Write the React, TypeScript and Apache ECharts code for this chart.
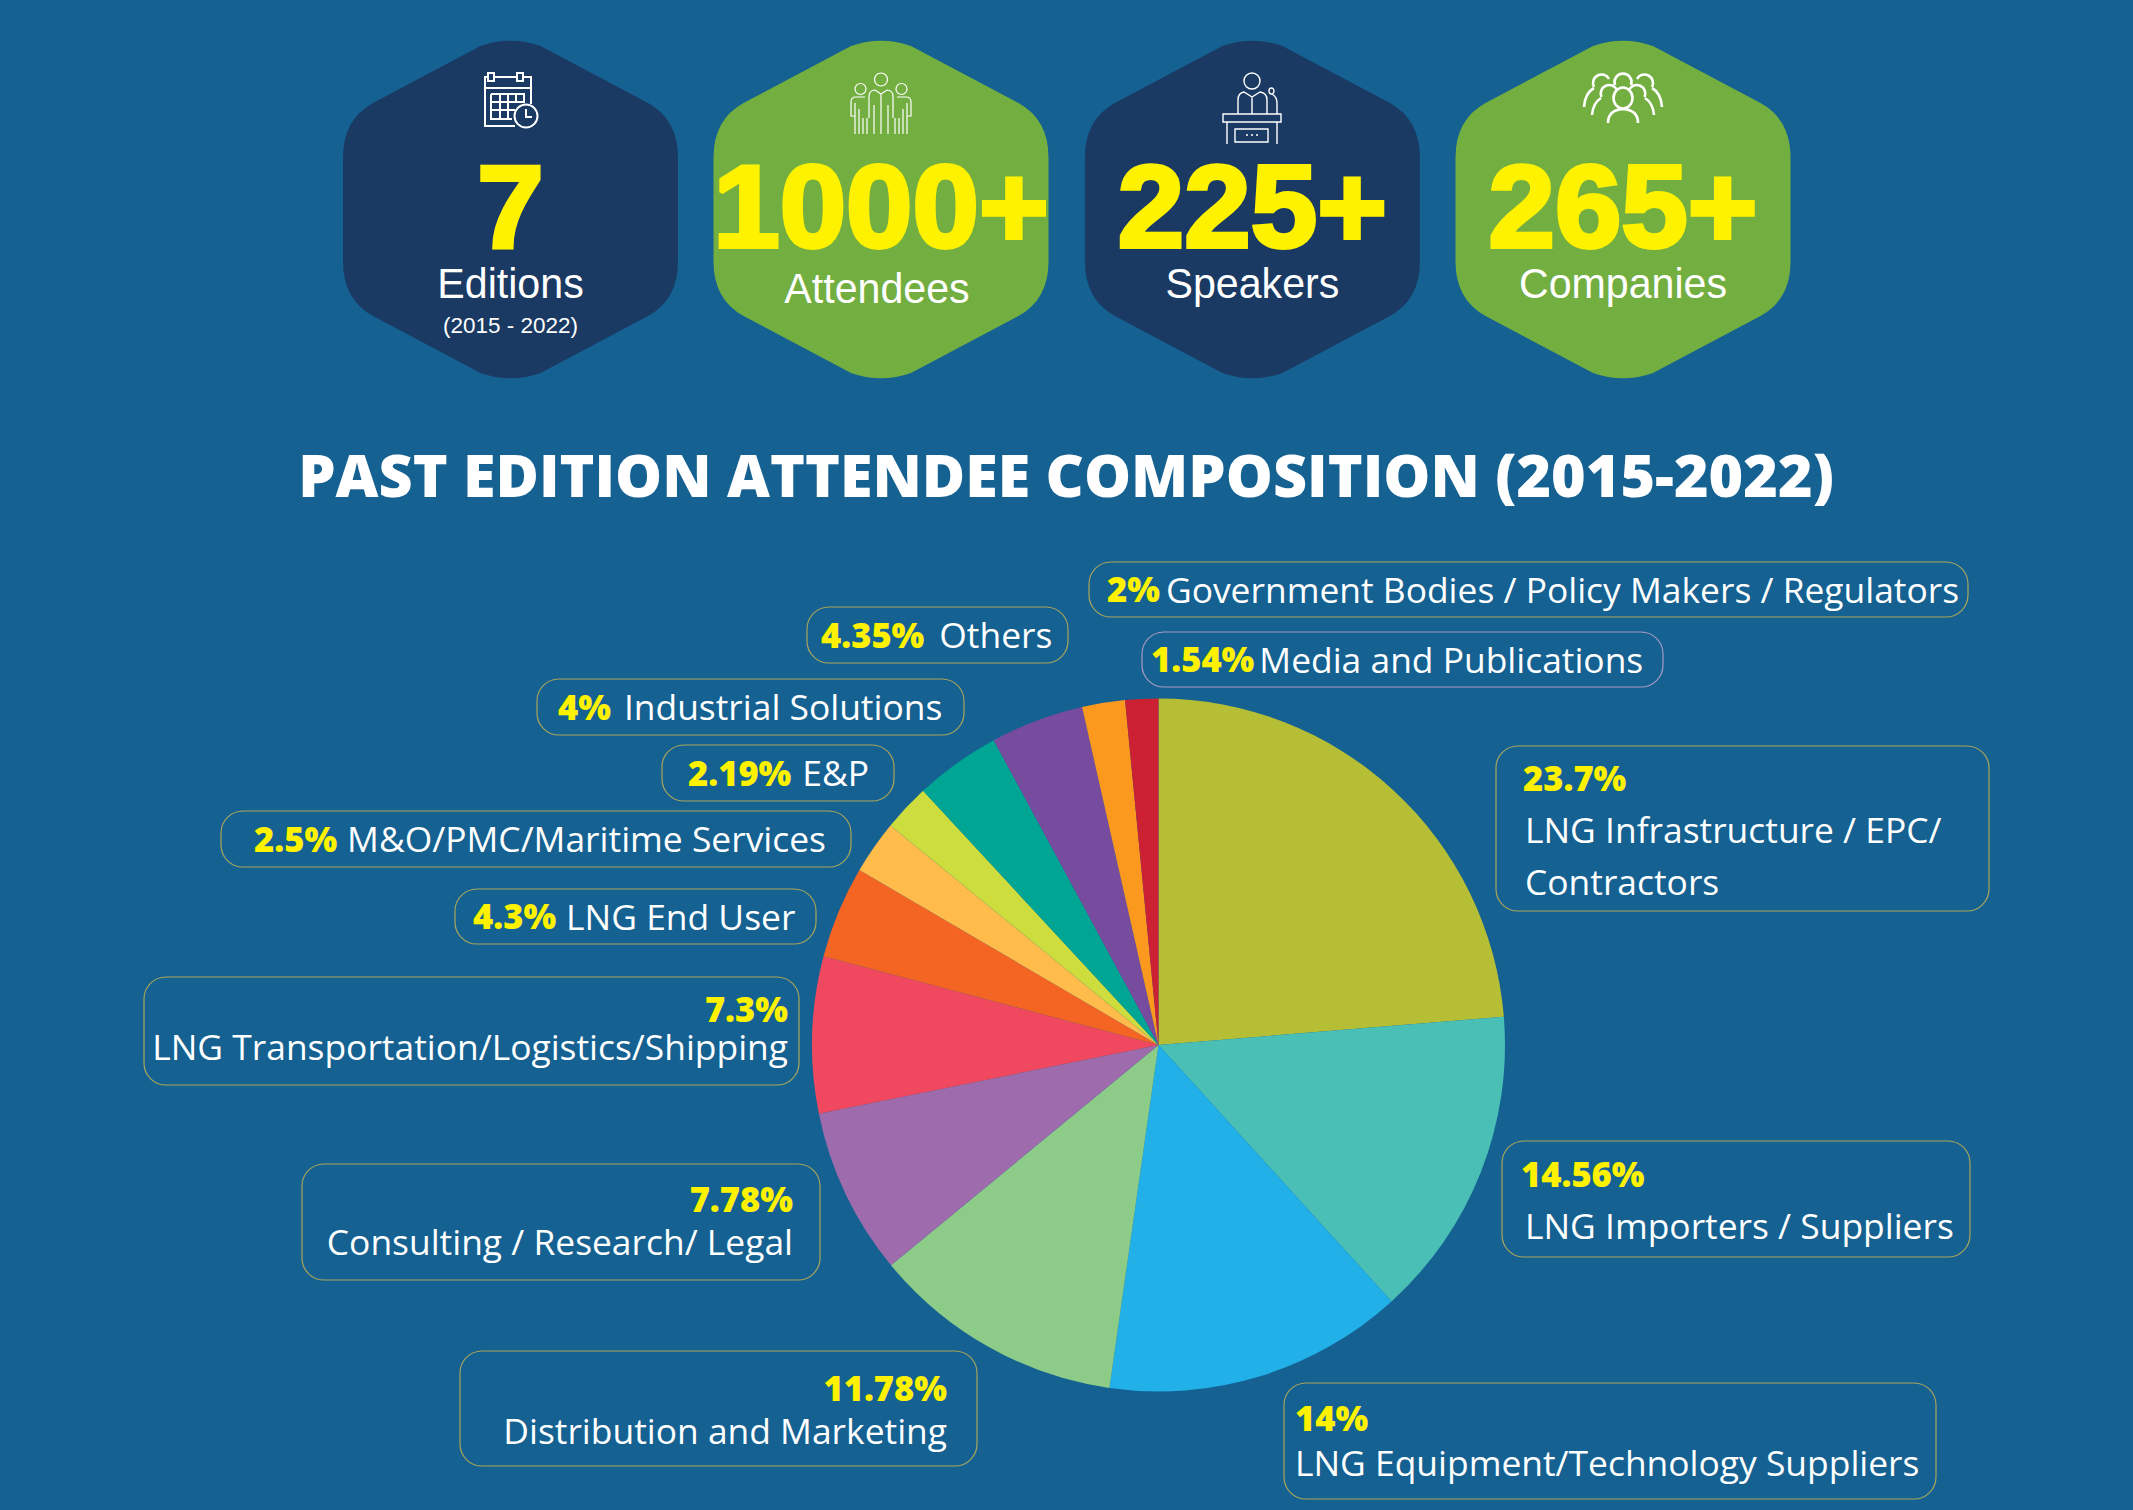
import React, { useEffect, useRef } from "react";
import * as echarts from "echarts";

const titleText = "PAST EDITION ATTENDEE COMPOSITION (2015-2022)";
const kpiValues = ["7", "1000+", "225+", "265+"];
const kpiLabels = ["Editions", "Attendees", "Speakers", "Companies"];
const kpiNote = "(2015 - 2022)";

const categories = [
  ["LNG Infrastructure / EPC/", "Contractors"],
  ["LNG Importers / Suppliers"],
  ["LNG Equipment/Technology Suppliers"],
  ["Distribution and Marketing"],
  ["Consulting / Research/ Legal"],
  ["LNG Transportation/Logistics/Shipping"],
  ["LNG End User"],
  ["M&O/PMC/Maritime Services"],
  ["E&P"],
  ["Industrial Solutions"],
  ["Others"],
  ["Government Bodies / Policy Makers / Regulators"],
  ["Media and Publications"],
];
const shares = [23.7, 14.56, 14, 11.78, 7.78, 7.3, 4.3, 2.5, 2.19, 4, 4.35, 2, 1.54];
const sliceColors = ["#B5BE35", "#4ABFB5", "#22B0E8", "#8DCB88", "#9E6CAD", "#F0495F", "#F46423", "#FFBC4A", "#CEDD3E", "#00A693", "#774C9E", "#FB981E", "#CC2132"];

const boxes: any[] = [
  { x: 1496, y: 746, w: 493, h: 165, l: 27, r: 0, t: 5, lh: 52, stack: 1, align: "left", indent: 2 },
  { x: 1502, y: 1141, w: 468, h: 116, l: 19, r: 0, t: 6.5, lh: 51.5, stack: 1, align: "left", indent: 4 },
  { x: 1284, y: 1383, w: 652, h: 116, l: 11, r: 0, t: 11.5, lh: 45, stack: 1, align: "left" },
  { x: 460, y: 1351, w: 517, h: 115, l: 0, r: 30, t: 15, lh: 42.5, stack: 1, align: "right" },
  { x: 302, y: 1164, w: 518, h: 116, l: 0, r: 27, t: 12.5, lh: 43, stack: 1, align: "right" },
  { x: 144, y: 977, w: 655, h: 108, l: 0, r: 11, t: 12, lh: 38, stack: 1, align: "right" },
  { x: 455, y: 889, w: 361, h: 55, l: 18, gap: 10, lh: 53 },
  { x: 221, y: 811, w: 630, h: 56, l: 33, gap: 10, lh: 54 },
  { x: 662, y: 745, w: 232, h: 56, l: 26, gap: 11, lh: 54 },
  { x: 537, y: 679, w: 427, h: 56, l: 21, gap: 13, lh: 54 },
  { x: 807, y: 607, w: 261, h: 56, l: 14, gap: 15, lh: 54 },
  { x: 1089, y: 562, w: 879, h: 55, l: 18, gap: 6, lh: 53 },
  { x: 1142, y: 632, w: 521, h: 55, l: 9, gap: 5, lh: 53, border: "#A79BC0" },
];

const hexCenters = [510.5, 881, 1252.4, 1623];
const hexFill = ["#1A3A63", "#73AE41", "#1A3A63", "#73AE41"];

const HEX =
  "M-30,-163.5 Q0,-174 30,-163.5 L137.5,-106.5 Q167.5,-90 167.5,-52 L167.5,52 Q167.5,90 137.5,106.5 L30,163.5 Q0,174 -30,163.5 L-137.5,106.5 Q-167.5,90 -167.5,52 L-167.5,-52 Q-167.5,-90 -137.5,-106.5 Z";
const ICON_CAL =
  "M5,4H2V53H32 M11,4H34 M40,4H48V31 M2,15H48 M5,0H11V8H5Z M34,0H40V8H34Z M8,21H41V30 M8,21V46H29 M8,29H41 M8,37H32 M17,21V46 M25,21V46 M33,21V30 M54.5,43A11.5,11.5 0 1 1 31.5,43A11.5,11.5 0 1 1 54.5,43 M43,36V44H49";
const ICON_PEOPLE =
  "M36.5,6.5A6.5,6.5 0 1 1 23.5,6.5A6.5,6.5 0 1 1 36.5,6.5 M15,16A5.5,5.5 0 1 1 4,16A5.5,5.5 0 1 1 15,16 M56,16A5.5,5.5 0 1 1 45,16A5.5,5.5 0 1 1 56,16 M18,45V24Q18,17 24,17L30,21L36,17Q42,17 42,24V45 M23,61V32 M37,61V32 M30,21V61 M14,24H5Q0,24 0,29V43H4V30 M4,43V61 M8,36V61 M12,45V61 M16,45V61 M46,24H55Q60,24 60,29V43H56V30 M56,43V61 M52,36V61 M48,45V61 M44,45V61";
const ICON_SPEAKER =
  "M38,8A8,8 0 1 1 22,8A8,8 0 1 1 38,8 M16,41V27Q16,20 22,19L30,24L38,19Q45,20 45,27V41 M1,41H59V49H1Z M5,49V71 M55,49V71 M13,56H46V69H13Z M24,62H26 M29,62H31 M34,62H36 M52,18A2.5,3 0 1 1 47,18A2.5,3 0 1 1 52,18 M50,21Q55,24 55,30V41 M30,24V41";
const ICON_GROUP =
  "M10,14A8.5,8.5 0 1 1 25,6 M10,15Q1,20 0,34 M31,12A8.5,8.5 0 1 1 47,12 M53,6A8.5,8.5 0 1 1 68,14 M68,15Q77,20 78,34 M17.5,24A8.5,8.5 0 1 1 33,17 M17,25Q9,30 8,42 M45,17A8.5,8.5 0 1 1 60.5,24 M61,25Q69,30 70,42 M48.5,25A9.5,10.5 0 1 1 29.5,25A9.5,10.5 0 1 1 48.5,25 M24,50Q24,37 39,36Q54,37 54,50";

const W = 2133;
const H = 1510;
const PCT = "#FFF200";
const BG = "#146192";
const LABEL_FONT = "'Open Sans', sans-serif";
const KPI_FONT = "'Liberation Sans', Arial, sans-serif";

function buildData() {
  return shares.map((v, i) => {
    const b = boxes[i];
    const pct = `${v}%`;
    const text = categories[i];
    const lh = b.lh ?? b.h;
    const tok = (extra: any) => ({
      fontFamily: LABEL_FONT,
      lineHeight: lh,
      height: lh,
      ...extra,
    });
    const rich: any = {
      p: tok({ color: PCT, fontWeight: 800, fontSize: 34.5, align: b.align ?? "left" }),
      t: tok({ color: "#fff", fontWeight: 500, fontSize: 35.4, align: b.align ?? "left", padding: [0, 0, 0, b.gap ?? b.indent ?? 0] }),
    };
    const formatter = b.stack
      ? `{p|${pct}}\n` + text.map((s) => `{t|${s}}`).join("\n")
      : `{p|${pct}}{t|${text[0]}}`;
    const l = b.l ?? 0;
    const r = b.r ?? 0;
    const t = b.t ?? 0;
    return {
      name: text.join(" "),
      value: v,
      itemStyle: { color: sliceColors[i] },
      label: {
        formatter,
        rich,
        width: b.w - l - r,
        height: b.h - t,
        padding: [t, r, 0, l],
        borderColor: b.border ?? "#A9A55C",
        borderWidth: 1.2,
        borderRadius: 22,
        align: "left",
        verticalAlign: "top",
      },
    };
  });
}

export default function App() {
  const ref = useRef<HTMLDivElement>(null);
  useEffect(() => {
    document.body.style.margin = "0";
    document.body.style.background = BG;
    const make = (name: string, d: string) => {
      try {
        echarts.graphic.registerShape(name, echarts.graphic.extendPath(d, {}) as any);
      } catch (e) {}
    };
    make("hexagon", HEX);
    make("iconCal", ICON_CAL);
    make("iconPeople", ICON_PEOPLE);
    make("iconSpeaker", ICON_SPEAKER);
    make("iconGroup", ICON_GROUP);

    const chart = echarts.init(ref.current!, undefined, { renderer: "svg" });
    const graphics: any[] = [];
    hexCenters.forEach((cx, i) => {
      graphics.push({ type: "hexagon", x: cx, y: 209.5, style: { fill: hexFill[i] }, z: 1 });
      graphics.push({
        type: "text",
        z: 3,
        x: cx,
        y: 206.5,
        scaleX: 1.03,
        style: {
          x: 0,
          y: 0,
          text: kpiValues[i],
          fill: PCT,
          stroke: PCT,
          lineWidth: 4,
          font: `bold 116px ${KPI_FONT}`,
          lineHeight: 90,
          align: "center",
          verticalAlign: "middle",
        },
      });
      graphics.push({
        type: "text",
        z: 3,
        x: cx + (i === 1 ? -4 : 0),
        y: i === 1 ? 288 : 283.5,
        scaleX: 0.98,
        style: {
          x: 0,
          y: 0,
          text: kpiLabels[i],
          fill: "#fff",
          font: `42px ${KPI_FONT}`,
          lineHeight: 44,
          align: "center",
          verticalAlign: "middle",
        },
      });
    });
    graphics.push({
      type: "text",
      z: 3,
      style: { x: 510.5, y: 325, text: kpiNote, fill: "#fff", font: `22.5px ${KPI_FONT}`, lineHeight: 24, align: "center", verticalAlign: "middle" },
    });
    const iconStyle = { fill: "none", stroke: "#fff", lineWidth: 2 };
    graphics.push({ type: "iconCal", x: 483, y: 73, z: 3, style: iconStyle });
    graphics.push({ type: "iconPeople", x: 851, y: 73, z: 3, style: { ...iconStyle, lineWidth: 1.2 } });
    graphics.push({ type: "iconSpeaker", x: 1222, y: 73, z: 3, style: { ...iconStyle, lineWidth: 1.4 } });
    graphics.push({ type: "iconGroup", x: 1584, y: 73, z: 3, style: { ...iconStyle, lineWidth: 2.6 } });

    chart.setOption({
      animation: false,
      backgroundColor: BG,
      title: {
        text: titleText,
        left: 1061,
        top: 439,
        textAlign: "center",
        textStyle: { color: "#fff", fontFamily: LABEL_FONT, fontWeight: 800, fontSize: 59.2 },
      },
      graphic: graphics,
      series: [
        {
          type: "pie",
          center: [1158.5, 1045],
          radius: [0, 346.5],
          startAngle: 90,
          clockwise: true,
          avoidLabelOverlap: false,
          silent: true,
          label: { show: true, position: "outside" },
          labelLine: { show: false },
          labelLayout: (p: any) => ({
            x: boxes[p.dataIndex].x,
            y: boxes[p.dataIndex].y,
            align: "left",
            verticalAlign: "top",
          }),
          data: buildData(),
        },
      ],
    });
    return () => chart.dispose();
  }, []);
  return <div ref={ref} style={{ width: W, height: H }} />;
}
